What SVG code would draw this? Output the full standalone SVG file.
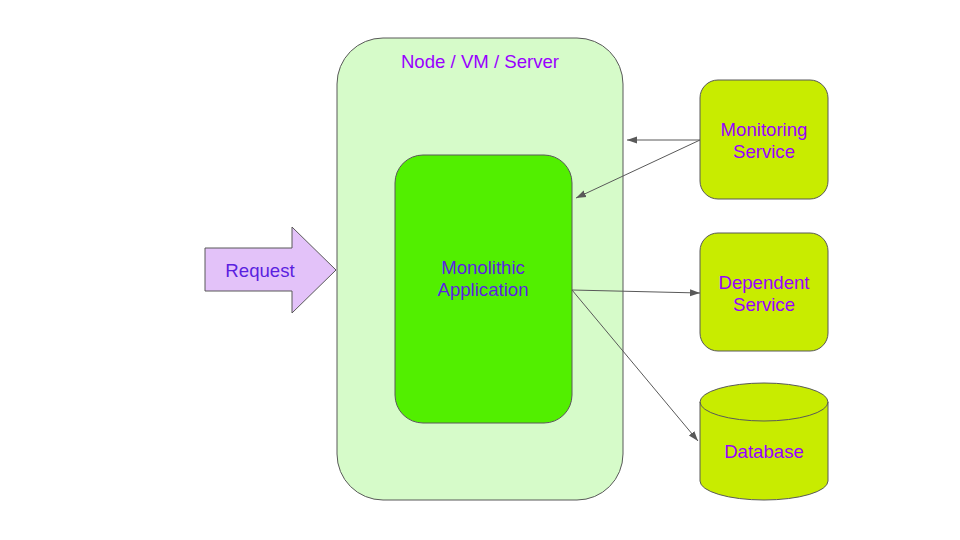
<svg xmlns="http://www.w3.org/2000/svg" width="960" height="540" viewBox="0 0 960 540">
<defs>
<style>
.stroke{stroke:#595959;stroke-width:1}
.lbl{font-family:"Liberation Sans",Arial,sans-serif;font-size:18.6px;text-anchor:middle}
.purple{fill:#9900ff}
.blue{fill:#5b1fe0}
.svc{fill:#c8ec00}
.conn{stroke:#595959;stroke-width:1;fill:none;marker-end:url(#ah)}
</style>
<marker id="ah" viewBox="0 0 10 10" refX="10" refY="5" markerWidth="10" markerHeight="10" markerUnits="userSpaceOnUse" orient="auto">
<path d="M0,1.5 L10,5 L0,8.5 Z" fill="#595959"/>
</marker>
</defs>
<rect width="960" height="540" fill="#ffffff"/>
<g id="server">
<rect class="stroke" x="337" y="38" width="286" height="462" rx="46" fill="#d6fbc9"/>
<text class="lbl purple" x="480" y="68">Node / VM / Server</text>
</g>
<g id="app">
<rect class="stroke" x="395" y="155" width="177" height="268" rx="28" fill="#52ef00"/>
<text class="lbl blue" x="483" y="274">Monolithic</text>
<text class="lbl blue" x="483" y="296">Application</text>
</g>
<g id="request">
<path class="stroke" d="M205,248 L292,248 L292,227 L336,270 L292,313 L292,291 L205,291 Z" fill="#e3c2f9"/>
<text class="lbl blue" x="260" y="277">Request</text>
</g>
<g id="monitoring">
<rect class="stroke svc" x="700" y="80" width="128" height="119" rx="18"/>
<text class="lbl purple" x="764" y="136">Monitoring</text>
<text class="lbl purple" x="764" y="158">Service</text>
</g>
<g id="dependent">
<rect class="stroke svc" x="700" y="233" width="128" height="118" rx="18"/>
<text class="lbl purple" x="764" y="289">Dependent</text>
<text class="lbl purple" x="764" y="311">Service</text>
</g>
<g id="database">
<path class="stroke svc" d="M700,402 L700,481 A64,19 0 0 0 828,481 L828,402 A64,19 0 0 0 700,402 Z"/>
<path class="stroke" d="M700,402 A64,19 0 0 0 828,402" fill="none"/>
<text class="lbl purple" x="764" y="458">Database</text>
</g>
<g id="connectors">
<line class="conn" x1="700" y1="140" x2="627" y2="140"/>
<line class="conn" x1="700" y1="140" x2="576" y2="198"/>
<line class="conn" x1="572" y1="290" x2="700" y2="293"/>
<line class="conn" x1="572" y1="290" x2="698" y2="441"/>
</g>
</svg>
